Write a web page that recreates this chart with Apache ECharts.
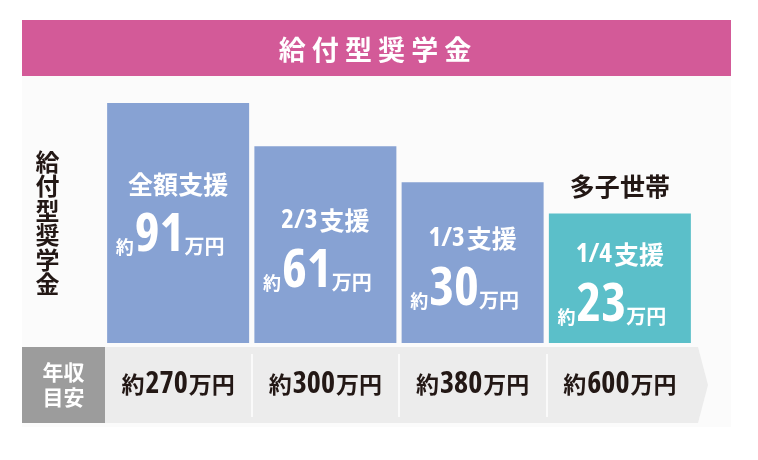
<!DOCTYPE html>
<html>
<head>
<meta charset="utf-8">
<script src="https://cdn.jsdelivr.net/npm/echarts@6/dist/echarts.min.js"></script>
<style>
  html, body { margin: 0; padding: 0; background: #fff; }
  #chart { width: 758px; height: 460px; }
</style>
</head>
<body>
<div id="chart"></div>
<script>
// 支援区分, 給付額(万円), 年収目安(万円), 棒の見た目の高さ
const supportLevels = ['全額支援', '2/3支援', '1/3支援', '1/4支援'];
const amounts = [91, 61, 30, 23];
const incomes = [270, 300, 380, 600];
const barLevels = [100, 82, 67, 54];
const multiChildIndex = 3;

const CJK = '"Noto Sans CJK JP", sans-serif';
// 数字用: Open Sans の condensed 幅を使う
const NARROW = '"Open Sans", "Noto Sans CJK JP", sans-serif';
const NARROW_W = 'bold condensed';
const DARK = '#231815';

const chart = echarts.init(document.getElementById('chart'));

function levelText(s) {
    // 数字部分（2/3 など）は細めの書体で
    const m = s.match(/^([\d/]*)(.*)$/);
    return (m[1] ? '{f|' + m[1] + '}' : '') + '{t|' + m[2] + '}';
}

const barData = barLevels.map(function (v, i) {
    const item = {
        value: v,
        itemStyle: { color: i === multiChildIndex ? '#5bbfc9' : '#87a2d3' }
    };
    if (i === 0) item.label = { offset: [0, -11] };
    return item;
});

const option = {
    animation: false,
    textStyle: { fontFamily: CJK },
    title: {
        text: '給 付 型 奨 学 金',
        left: 375,
        top: 36,
        padding: 0,
        textAlign: 'center',
        textStyle: { color: '#fff', fontSize: 27, fontWeight: 'bold', fontFamily: CJK }
    },
    graphic: [
        { type: 'rect', z: -10, shape: { x: 22, y: 76, width: 709, height: 351 }, style: { fill: '#fbfbfb' } },
        { type: 'rect', z: -5, shape: { x: 22, y: 20, width: 709, height: 56 }, style: { fill: '#d35a98' } },
        {
            type: 'polygon', z: -5,
            shape: { points: [[105, 347], [698, 347], [708, 385], [698, 423], [105, 423]] },
            style: { fill: '#ececec' }
        },
        { type: 'rect', z: -5, shape: { x: 22, y: 347, width: 83, height: 76 }, style: { fill: '#9c9c9c' } },
        {
            type: 'text', x: 63.5, y: 385,
            style: {
                text: '年収\n目安', fill: '#fff', font: 'bold 21px ' + CJK,
                align: 'center', verticalAlign: 'middle', lineHeight: 25
            }
        }
    ],
    grid: [
        { left: 104.5, right: 64.5, top: 103, bottom: 117 },
        { left: 104.5, right: 64.5, top: 354, bottom: 43 }
    ],
    xAxis: [
        {
            type: 'category',
            gridIndex: 0,
            data: incomes.map(String),
            axisLine: { show: false },
            axisTick: { show: false },
            axisLabel: {
                margin: 26,
                formatter: function (v) { return '{k|約}{d|' + v + '}{k|万円}'; },
                rich: {
                    k: { fontSize: 23, fontWeight: 'bold', color: DARK, fontFamily: CJK, lineHeight: 30 },
                    d: { fontSize: 30, fontWeight: NARROW_W, color: DARK, fontFamily: NARROW, lineHeight: 30, padding: [0, 1, 0, 1] }
                }
            }
        },
        {
            type: 'category',
            gridIndex: 1,
            data: incomes.map(String),
            axisLine: { show: false },
            axisTick: { show: false },
            axisLabel: { show: false },
            splitLine: {
                show: true,
                showMinLine: false,
                showMaxLine: false,
                lineStyle: { color: '#ffffff', width: 1.5 }
            }
        }
    ],
    yAxis: [
        {
            type: 'value',
            gridIndex: 0,
            min: 0,
            max: 100,
            name: '給\n付\n型\n奨\n学\n金',
            nameLocation: 'middle',
            nameGap: 45,
            nameRotate: 0,
            nameTextStyle: { fontSize: 24, fontWeight: 'bold', color: DARK, lineHeight: 24.5, fontFamily: CJK },
            axisLine: { show: false },
            axisTick: { show: false },
            axisLabel: { show: false },
            splitLine: { show: false }
        },
        { type: 'value', gridIndex: 1, show: false }
    ],
    series: [
        {
            type: 'bar',
            xAxisIndex: 0,
            yAxisIndex: 0,
            barWidth: 142,
            data: barData,
            label: {
                show: true,
                position: 'inside',
                offset: [0, 4],
                formatter: function (p) {
                    const i = p.dataIndex;
                    return levelText(supportLevels[i]) + '\n{s|約}{n|' + amounts[i] + '}{u|万円}';
                },
                rich: {
                    t: { fontSize: 25, fontWeight: 'bold', color: '#fff', fontFamily: CJK, lineHeight: 44 },
                    f: { fontSize: 27, fontWeight: NARROW_W, color: '#fff', fontFamily: NARROW, lineHeight: 44, padding: [0, 2, 0, 0] },
                    s: { fontSize: 18, fontWeight: 'bold', color: '#fff', fontFamily: CJK, verticalAlign: 'bottom', padding: [0, 1, 6, 0] },
                    n: { fontSize: 53, fontWeight: NARROW_W, color: '#fff', fontFamily: NARROW, verticalAlign: 'bottom', lineHeight: 56 },
                    u: { fontSize: 20, fontWeight: 'bold', color: '#fff', fontFamily: CJK, verticalAlign: 'bottom', padding: [0, 16, 6, 0] }
                }
            },
            markPoint: {
                symbol: 'rect',
                symbolSize: 0,
                data: [{ coord: [multiChildIndex, barLevels[multiChildIndex]] }],
                label: {
                    show: true,
                    position: 'top',
                    distance: 14,
                    formatter: '多子世帯',
                    fontSize: 25,
                    fontWeight: 'bold',
                    color: DARK,
                    fontFamily: CJK
                }
            }
        }
    ]
};

chart.setOption(option);
</script>
</body>
</html>
